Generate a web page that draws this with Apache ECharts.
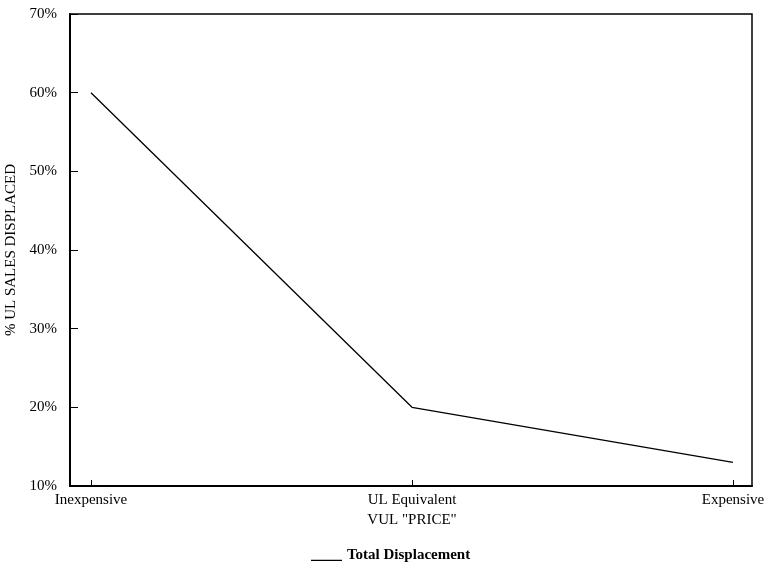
<!DOCTYPE html>
<html>
<head>
<meta charset="utf-8">
<script src="https://cdn.jsdelivr.net/npm/echarts@6/dist/echarts.min.js"></script>
<style>html,body{margin:0;padding:0;background:#fff}#c{width:767px;height:565px}</style>
</head>
<body>
<div id="c"></div>
<script>
const categories = ['Inexpensive', 'UL Equivalent', 'Expensive'];
const totalDisplacement = [60, 20, 13];
const seriesName = 'Total Displacement';
const yTicks = [10, 20, 30, 40, 50, 60, 70];

const FONT = '"Liberation Serif", "DejaVu Serif", serif';
const chart = echarts.init(document.getElementById('c'));
chart.setOption({
  backgroundColor: '#fff',
  animation: false,
  textStyle: { fontFamily: FONT, color: '#000' },
  grid: [
    { left: 70, right: 15, top: 14, bottom: 79, show: true, borderColor: '#000', borderWidth: 1.5, backgroundColor: 'transparent', outerBoundsMode: 'none', containLabel: false },
    { left: 91, right: 34, top: 14, bottom: 79, outerBoundsMode: 'none', containLabel: false }
  ],
  xAxis: [
    { type: 'value', gridIndex: 0, min: 0, max: 1, axisLine: { show: true, lineStyle: { color: '#000', width: 2 } }, axisTick: { show: false }, axisLabel: { show: false }, splitLine: { show: false } },
    { type: 'category', gridIndex: 1, data: categories, boundaryGap: false,
      axisLine: { show: false },
      axisTick: { show: true, inside: true, length: 6, lineStyle: { color: '#000', width: 1 } },
      axisLabel: { color: '#000', fontFamily: FONT, fontSize: 15, margin: 7 },
      name: 'VUL "PRICE"', nameLocation: 'middle', nameGap: 24,
      nameTextStyle: { color: '#000', fontFamily: FONT, fontSize: 15 },
      splitLine: { show: false } }
  ],
  yAxis: [
    { type: 'value', gridIndex: 0, min: yTicks[0], max: yTicks[yTicks.length - 1], interval: 10,
      axisLine: { show: true, lineStyle: { color: '#000', width: 2 } },
      axisTick: { show: true, inside: true, length: 8, lineStyle: { color: '#000', width: 1 } },
      axisLabel: { color: '#000', fontFamily: FONT, fontSize: 15, margin: 13, formatter: '{value}%' },
      splitLine: { show: false },
      name: '% UL SALES DISPLACED', nameLocation: 'middle', nameGap: 50,
      nameTextStyle: { color: '#000', fontFamily: FONT, fontSize: 15 } },
    { type: 'value', gridIndex: 1, min: yTicks[0], max: yTicks[yTicks.length - 1], show: false }
  ],
  legend: {
    top: 543, left: 306,
    data: [{ name: seriesName, icon: 'path://M0,0 L31,0 L31,0.01 L0,0.01 Z M0,11.2 L31,11.2 L31,12.6 L0,12.6 Z M0,14 L31,14 L31,14.01 L0,14.01 Z', itemStyle: { color: '#000', borderWidth: 0 } }],
    itemWidth: 31, itemHeight: 14, itemGap: 6,
    textStyle: { color: '#000', fontFamily: FONT, fontSize: 15, fontWeight: 'bold' }
  },
  series: [
    { name: seriesName, type: 'line', xAxisIndex: 1, yAxisIndex: 1, data: totalDisplacement,
      symbol: 'none', lineStyle: { color: '#000', width: 1.3 }, itemStyle: { color: '#000' } }
  ]
});
</script>
</body>
</html>
